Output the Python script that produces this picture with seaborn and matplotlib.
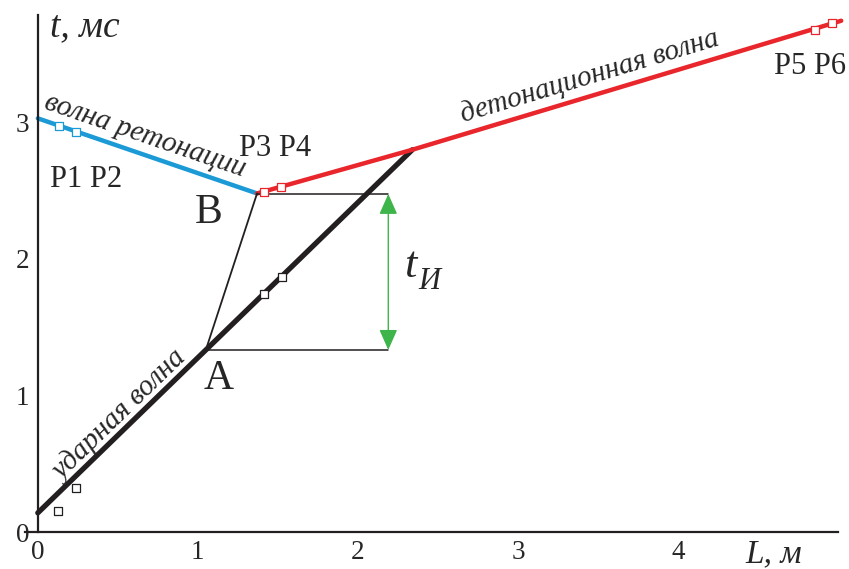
import numpy as np
import matplotlib
matplotlib.use('Agg')
import matplotlib.pyplot as plt
import seaborn as sns

# --- data (L in m, t in ms) ---
shock_L = [0.0, 2.34]
shock_t = [0.14, 2.80]
reton_L = [0.0, 1.37]
reton_t = [3.03, 2.48]
deton_L = [1.37, 2.34, 5.02]
deton_t = [2.48, 2.80, 3.745]
link_L = [1.05, 1.37]
link_t = [1.334, 2.48]

black_pts_L = [0.125, 0.2375, 1.414, 1.523]
black_pts_t = [0.156, 0.32, 1.746, 1.870]
blue_pts_L = [0.133, 0.2375]
blue_pts_t = [2.974, 2.933]
red_pts_L = [1.414, 1.519, 4.856, 4.964]
red_pts_t = [2.493, 2.525, 3.675, 3.727]

ti_L = 2.19
ti_top = 2.476
ti_bot = 1.334

x_ticks = [0, 1, 2, 3, 4]
y_ticks = [0, 1, 2, 3]

BLUE = '#1b9ad6'
RED = '#e8262b'
GREEN = '#3db54a'
DARK = '#231f20'

sns.set_style('white')
plt.rcParams['font.family'] = ['Liberation Serif', 'DejaVu Serif']

fig = plt.figure(figsize=(8.49, 5.69), dpi=100)
ax = fig.add_axes([25 / 849, 1 - 532 / 569, 813 / 849, 517 / 569])
ax.set_xlim(-0.08, 5.0)
ax.set_ylim(0, 3.787)

# lines
sns.lineplot(x=shock_L, y=shock_t, sort=False, color=DARK, lw=3.8, ax=ax, clip_on=False)
sns.lineplot(x=reton_L, y=reton_t, sort=False, color=BLUE, lw=3.2, ax=ax, clip_on=False)
sns.lineplot(x=deton_L, y=deton_t, sort=False, color=RED, lw=3.2, ax=ax, clip_on=False)
sns.lineplot(x=link_L, y=link_t, sort=False, color=DARK, lw=1.3, ax=ax)
sns.lineplot(x=[link_L[1], ti_L], y=[ti_top, ti_top], sort=False, color=DARK, lw=1.1, ax=ax)
sns.lineplot(x=[link_L[0], ti_L], y=[ti_bot, ti_bot], sort=False, color=DARK, lw=1.1, ax=ax)

# markers
sns.scatterplot(x=black_pts_L, y=black_pts_t, marker='s', s=40, color='white',
                edgecolor=DARK, linewidth=0.9, ax=ax, zorder=5)
sns.scatterplot(x=blue_pts_L, y=blue_pts_t, marker='s', s=40, color='white',
                edgecolor=BLUE, linewidth=0.9, ax=ax, zorder=5)
sns.scatterplot(x=red_pts_L, y=red_pts_t, marker='s', s=40, color='white',
                edgecolor=RED, linewidth=0.9, ax=ax, zorder=5, clip_on=False)

# green double arrow
ax.annotate('', xy=(ti_L, ti_bot), xytext=(ti_L, ti_top),
            arrowprops=dict(arrowstyle='<|-|>,head_length=0.45,head_width=0.2',
                            color=GREEN, lw=1.0, shrinkA=0, shrinkB=0,
                            mutation_scale=28))

# axes styling
for s in ['top', 'right']:
    ax.spines[s].set_visible(False)
ax.spines['left'].set_position(('data', 0))
ax.spines['bottom'].set_position(('data', 0))
for s in ['left', 'bottom']:
    ax.spines[s].set_color(DARK)
    ax.spines[s].set_linewidth(1.6)
ax.set_xticks(x_ticks)
ax.set_yticks(y_ticks)
ax.tick_params(axis='both', direction='out', length=5.5, width=1.0, color=DARK,
               labelsize=19.5, pad=0.5)
ax.set_xlabel('')
ax.set_ylabel('')

# labels
def screen_angle(L0, t0, L1, t1):
    p0 = ax.transData.transform((L0, t0))
    p1 = ax.transData.transform((L1, t1))
    return np.degrees(np.arctan2(p1[1] - p0[1], p1[0] - p0[0]))

ax.text(0.075, 3.70, 't, мс', fontsize=27, style='italic', ha='left', va='center')
ax.text(4.42, -0.225, 'L, м', fontsize=24, style='italic', ha='left', va='baseline',
        clip_on=False)

ax.text(0.67, 2.905, 'волна ретонации', fontsize=21, style='italic',
        ha='center', va='center', rotation_mode='anchor',
        rotation=screen_angle(reton_L[0], reton_t[0], reton_L[1], reton_t[1]))
ax.text(3.45, 3.335, 'детонационная волна', fontsize=21, style='italic',
        ha='center', va='center', rotation_mode='anchor',
        rotation=screen_angle(deton_L[1], deton_t[1], deton_L[2], deton_t[2]))
ax.text(0.515, 0.85, 'ударная волна', fontsize=21, style='italic',
        ha='center', va='center', rotation_mode='anchor',
        rotation=screen_angle(shock_L[0], shock_t[0], shock_L[1], shock_t[1]))

ax.text(0.075, 2.58, 'P1 P2', fontsize=22, ha='left', va='center')
ax.text(1.26, 2.81, 'P3 P4', fontsize=22, ha='left', va='center')
ax.text(4.6, 3.41, 'P5 P6', fontsize=22, ha='left', va='center', clip_on=False)
ax.text(1.07, 2.34, 'B', fontsize=30, ha='center', va='center')
ax.text(1.13, 1.12, 'A', fontsize=30, ha='center', va='center')
ax.text(2.29, 1.87, 't', fontsize=32, style='italic', ha='left', va='baseline')
ax.text(2.375, 1.78, 'И', fontsize=22, style='italic', ha='left', va='baseline')

fig.savefig('out.png', dpi=100)
